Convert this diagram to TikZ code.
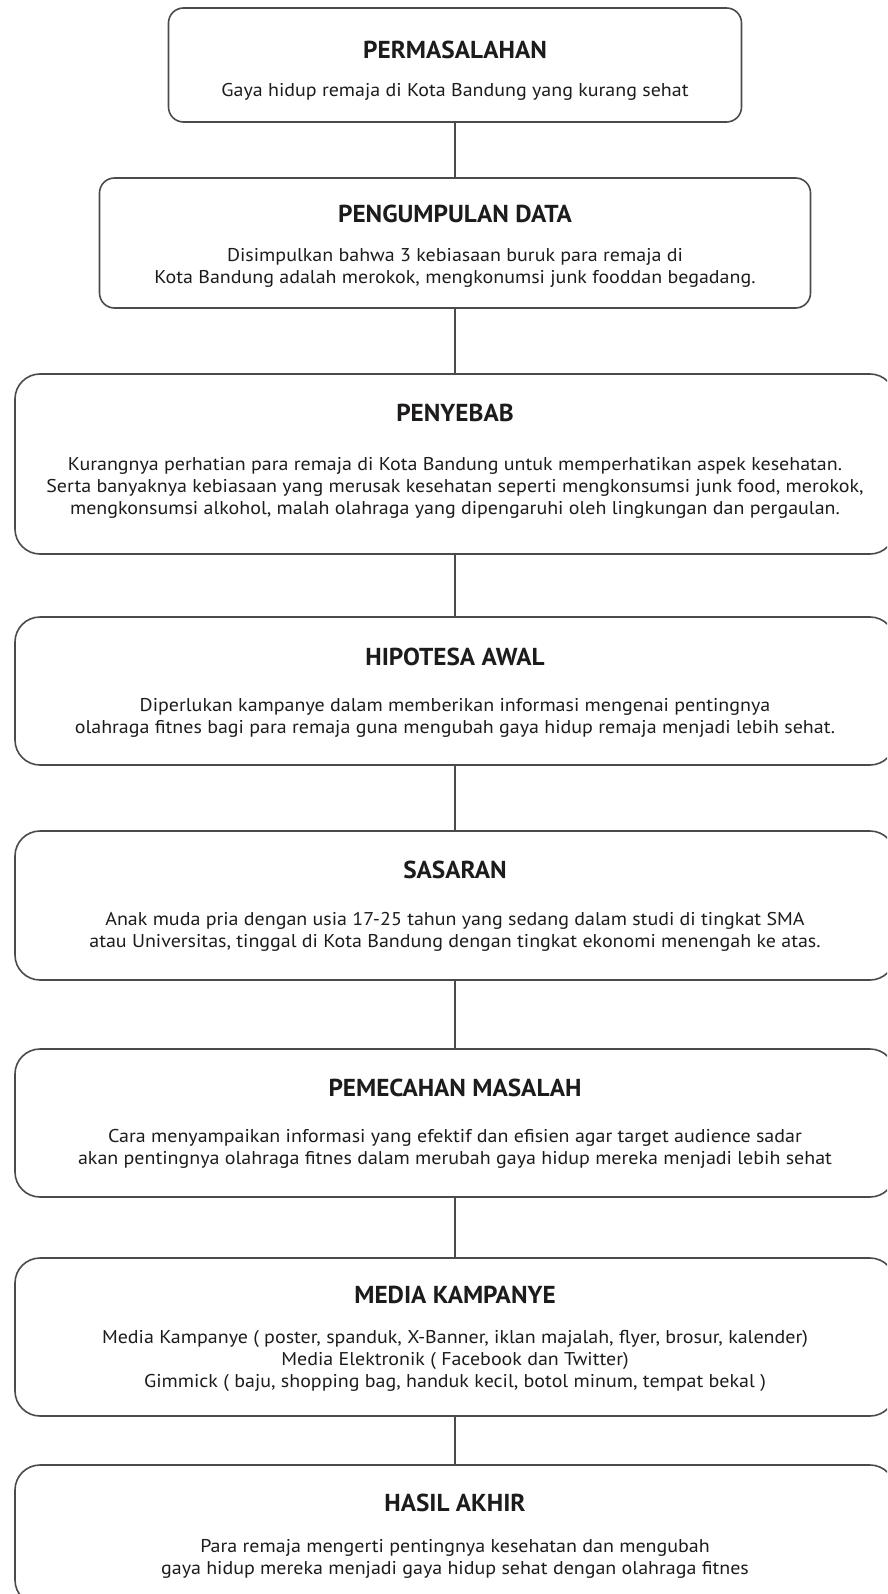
\documentclass[tikz,border=0pt]{standalone}
\usepackage{fontspec}
\setmainfont{PT Sans}
\newfontfamily\bodyfont[FakeStretch=1.08]{PT Sans}
\newfontfamily\headfont[FakeStretch=1.03]{PT Sans}
\usepackage{tikz}
\usetikzlibrary{positioning}
\definecolor{fcInk} {RGB}{ 30, 27, 28}
\definecolor{fcLine}{RGB}{ 75, 75, 75}

\begin{document}
\begin{tikzpicture}[
    x=1pt,y=-1pt,
    every node/.style={align=center,text=fcInk},
    stage/.style={rectangle,draw=fcLine,line width=1.6pt,inner sep=0pt},
    smallstage/.style={stage,rounded corners=15pt},
    bigstage/.style={stage,rounded corners=25pt,minimum width=880pt},
    ttl/.style={font=\headfont\bfseries\fontsize{24.5}{27}\selectfont},
    txt/.style={font=\bodyfont\fontsize{18.5}{22}\selectfont},
    link/.style={draw=fcLine,line width=1.6pt}
  ]
  \useasboundingbox (0,0) rectangle (887,1594);
  \clip (0,0) rectangle (887,1594);
  % Boxes
  \node[smallstage,minimum width=573pt,minimum height=114pt] (perm) at (455,65)   {};
  \node[smallstage,minimum width=711pt,minimum height=130pt] (data) at (455,243)  {};
  \node[bigstage,minimum height=180pt] (sebab) at (455,464)  {};
  \node[bigstage,minimum height=148pt] (hipo)  at (455,691)  {};
  \node[bigstage,minimum height=149pt] (sasar) at (455,905.5){};
  \node[bigstage,minimum height=148pt] (pecah) at (455,1123) {};
  \node[bigstage,minimum height=158pt] (media) at (455,1337) {};
  \node[bigstage,minimum height=140pt] (hasil) at (455,1535) {};
  % Links
  \draw[link] (perm.south)  -- (data.north);
  \draw[link] (data.south)  -- (sebab.north);
  \draw[link] (sebab.south) -- (hipo.north);
  \draw[link] (hipo.south)  -- (sasar.north);
  \draw[link] (sasar.south) -- (pecah.north);
  \draw[link] (pecah.south) -- (media.north);
  \draw[link] (media.south) -- (hasil.north);
  % Titles
  \node[ttl] (permT)  at (455,50)   {PERMASALAHAN};
  \node[ttl] (dataT)  at (455,214)  {PENGUMPULAN DATA};
  \node[ttl] (sebabT) at (455,413)  {PENYEBAB};
  \node[ttl] (hipoT)  at (455,657)  {HIPOTESA AWAL};
  \node[ttl] (sasarT) at (455,870)  {SASARAN};
  \node[ttl] (pecahT) at (455,1088) {PEMECAHAN MASALAH};
  \node[ttl] (mediaT) at (455,1295) {MEDIA KAMPANYE};
  \node[ttl] (hasilT) at (455,1503) {HASIL AKHIR};
  % Texts
  \node[txt] (permB)  at (455,92)   {Gaya hidup remaja di Kota Bandung yang kurang sehat};
  \node[txt] (dataB)  at (455,268)  {Disimpulkan bahwa 3 kebiasaan buruk para remaja di\\
    Kota Bandung adalah merokok, mengkonumsi junk fooddan begadang.};
  \node[txt] (sebabB) at (455,488)  {Kurangnya perhatian para remaja di Kota Bandung untuk memperhatikan aspek kesehatan.\\
    Serta banyaknya kebiasaan yang merusak kesehatan seperti mengkonsumsi junk food, merokok,\\
    mengkonsumsi alkohol, malah olahraga yang dipengaruhi oleh lingkungan dan pergaulan.};
  \node[txt] (hipoB)  at (455,718)  {Diperlukan kampanye dalam memberikan informasi mengenai pentingnya\\
    olahraga fitnes bagi para remaja guna mengubah gaya hidup remaja menjadi lebih sehat.};
  \node[txt] (sasarB) at (455,932)  {Anak muda pria dengan usia 17-25 tahun yang sedang dalam studi di tingkat SMA\\
    atau Universitas, tinggal di Kota Bandung dengan tingkat ekonomi menengah ke atas.};
  \node[txt] (pecahB) at (455,1149) {Cara menyampaikan informasi yang efektif dan efisien agar target audience sadar\\
    akan pentingnya olahraga fitnes dalam merubah gaya hidup mereka menjadi lebih sehat};
  \node[txt] (mediaB) at (455,1361) {Media Kampanye ( poster, spanduk, X-Banner, iklan majalah, flyer, brosur, kalender)\\
    Media Elektronik ( Facebook dan Twitter)\\
    Gimmick ( baju, shopping bag, handuk kecil, botol minum, tempat bekal )};
  \node[txt] (hasilB) at (455,1559) {Para remaja mengerti pentingnya kesehatan dan mengubah\\
    gaya hidup mereka menjadi gaya hidup sehat dengan olahraga fitnes};
\end{tikzpicture}
\end{document}
